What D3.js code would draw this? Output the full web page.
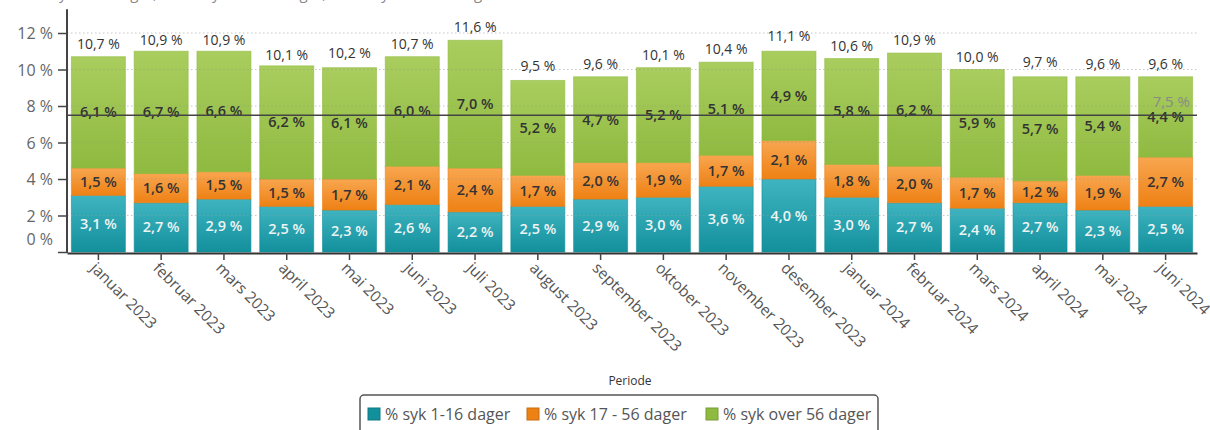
<!DOCTYPE html>
<html><head><meta charset="utf-8">
<script src="https://cdn.jsdelivr.net/npm/d3@7"></script>
<style>body{margin:0;background:#fff}svg{display:block;font-family:"Open Sans",Lato,sans-serif}</style>
</head><body><svg id="c" width="1210" height="430"></svg>
<script>
const months = ["januar 2023","februar 2023","mars 2023","april 2023","mai 2023","juni 2023","juli 2023","august 2023","september 2023","oktober 2023","november 2023","desember 2023","januar 2024","februar 2024","mars 2024","april 2024","mai 2024","juni 2024"];
const syk1_16 = [3.1,2.7,2.9,2.5,2.3,2.6,2.2,2.5,2.9,3.0,3.6,4.0,3.0,2.7,2.4,2.7,2.3,2.5];
const syk17_56 = [1.5,1.6,1.5,1.5,1.7,2.1,2.4,1.7,2.0,1.9,1.7,2.1,1.8,2.0,1.7,1.2,1.9,2.7];
const sykOver56 = [6.1,6.7,6.6,6.2,6.1,6.0,7.0,5.2,4.7,5.2,5.1,4.9,5.8,6.2,5.9,5.7,5.4,4.4];
const totals = [10.7,10.9,10.9,10.1,10.2,10.7,11.6,9.5,9.6,10.1,10.4,11.1,10.6,10.9,10.0,9.7,9.6,9.6];
const referanse = 7.5;
const yTicks = [0,2,4,6,8,10,12];
const seriesNames = ["% syk 1-16 dager","% syk 17 - 56 dager","% syk over 56 dager"];
const seriesColors = [["#3fb4c0","#12909c"],["#f8a650","#ee8114"],["#a9cd5e","#8fba40"]];
const labelColors = ["#eef4f4","#333","#333"];

const fmt = v => d3.format(".1f")(v).replace(".", ",") + " %";
const svg = d3.select("#c");
const defs = svg.append("defs");
seriesColors.forEach((c,i)=>{
  const g = defs.append("linearGradient").attr("id","g"+i).attr("x1",0).attr("y1",0).attr("x2",0).attr("y2",1);
  g.append("stop").attr("offset","0%").attr("stop-color",c[0]);
  g.append("stop").attr("offset","100%").attr("stop-color",c[1]);
});

// title remnant cut off at the top edge
svg.append("text").attr("x",8).attr("y",-1).attr("font-size",15).attr("fill","#888")
  .text("Andel syk 1-16 dager, Andel syk 17 - 56 dager, Andel syk over 56 dager");

const x = d3.scaleBand().domain(months).range([67,1197]).paddingInner(0.14).paddingOuter(0.07);
const y = d3.scaleLinear().domain([0,12]).range([252,33]);

const rows = months.map((m,i)=>({m, v:[syk1_16[i],syk17_56[i],sykOver56[i]]}));
const stack = d3.stack().keys([0,1,2]).value((d,k)=>d.v[k]);
const layers = stack(rows);

layers.forEach((layer,k)=>{
  svg.append("g").selectAll("rect").data(layer).join("rect")
    .attr("x",d=>x(d.data.m)).attr("width",x.bandwidth())
    .attr("y",d=>y(d[1])).attr("height",d=>y(d[0])-y(d[1]))
    .attr("fill","url(#g"+k+")").attr("stroke",seriesColors[k][1]).attr("stroke-opacity",0.6).attr("stroke-width",1);
});

// grid lines (dotted, over bars)
svg.append("g").selectAll("line").data(yTicks.filter(t=>t>0)).join("line")
  .attr("x1",67).attr("x2",1197).attr("y1",d=>y(d)).attr("y2",d=>y(d))
  .attr("stroke","#999").attr("stroke-opacity",0.55).attr("stroke-dasharray","1.5,2.5");

// segment labels
layers.forEach((layer,k)=>{
  svg.append("g").selectAll("text").data(layer).join("text")
    .attr("x",d=>x(d.data.m)+x.bandwidth()/2)
    .attr("y",d=>y((d[0]+d[1])/2)+5)
    .attr("text-anchor","middle").attr("font-size",14.5).attr("font-weight",600)
    .attr("fill",labelColors[k]).text(d=>fmt(d.data.v[k]));
});

// totals
svg.append("g").selectAll("text").data(months).join("text")
  .attr("x",m=>x(m)+x.bandwidth()/2).attr("y",(m,i)=>y(totals[i])-8)
  .attr("text-anchor","middle").attr("font-size",14).attr("font-weight",500).attr("fill","#333")
  .text((m,i)=>fmt(totals[i]));

// reference line
svg.append("line").attr("x1",67).attr("x2",1197).attr("y1",y(referanse)).attr("y2",y(referanse))
  .attr("stroke","#444").attr("stroke-width",1.5);
svg.append("text").attr("x",1190).attr("y",y(referanse)-8).attr("text-anchor","end")
  .attr("font-size",15).attr("fill","#8a8a8a").text(fmt(referanse));

// y axis
const yAxis = svg.append("g").attr("transform","translate(67,0)")
  .call(d3.axisLeft(y).tickValues(yTicks).tickSize(9).tickFormat(d=>d+" %"));
yAxis.select(".domain").remove();
yAxis.selectAll(".tick line").attr("stroke","#444").attr("stroke-width",1.5);
yAxis.selectAll(".tick text").attr("font-size",16).attr("fill","#666").attr("x",-14)
  .attr("font-family","'Open Sans',sans-serif")
  .attr("dy",d=>d===0?"-0.45em":"0.35em");
svg.append("line").attr("x1",67).attr("x2",67).attr("y1",y(13.3)).attr("y2",253).attr("stroke","#444").attr("stroke-width",2);

// x axis
const xAxis = svg.append("g").attr("transform","translate(0,253)")
  .call(d3.axisBottom(x).tickSize(7).tickSizeOuter(0));
xAxis.select(".domain").attr("stroke","#333").attr("stroke-width",2);
xAxis.selectAll(".tick line").attr("stroke","#444").attr("stroke-width",1.5);
xAxis.selectAll(".tick text").attr("font-size",15.5).attr("fill","#555")
  .attr("font-family","'Open Sans',sans-serif")
  .attr("text-anchor","start").attr("x",0).attr("y",0).attr("dy",0)
  .attr("transform","translate(-9,16) rotate(45)");

// axis title
svg.append("text").attr("x",630).attr("y",385).attr("text-anchor","middle")
  .attr("font-size",12).attr("fill","#333").text("Periode");

// legend
const lg = svg.append("g");
lg.append("rect").attr("x",360).attr("y",395).attr("width",518).attr("height",45).attr("rx",4)
  .attr("fill","#fff").attr("stroke","#555").attr("stroke-width",1.5);
const legendX = [368,527,706];
seriesNames.forEach((n,i)=>{
  lg.append("rect").attr("x",legendX[i]).attr("y",408).attr("width",12).attr("height",12)
    .attr("fill",seriesColors[i][1]).attr("stroke",d3.color(seriesColors[i][1]).darker(0.5));
  lg.append("text").attr("x",legendX[i]+17).attr("y",420).attr("font-size",16).attr("fill","#555").text(n);
});
</script></body></html>
